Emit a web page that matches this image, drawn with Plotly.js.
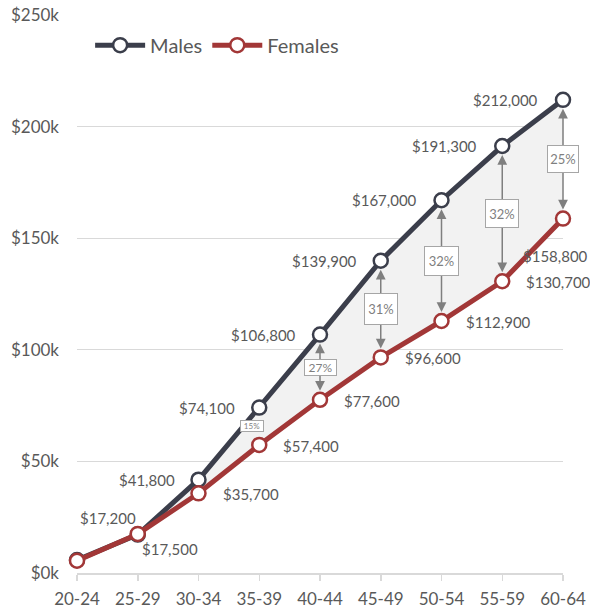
<!DOCTYPE html>
<html>
<head>
<meta charset="utf-8">
<script src="https://cdn.plot.ly/plotly-3.0.1.min.js"></script>
<style>html,body{margin:0;padding:0;background:#fff}#chart{width:590px;height:609px}</style>
</head>
<body>
<div id="chart"></div>
<script>
// ---- data ----
const ageGroups = ["20-24","25-29","30-34","35-39","40-44","45-49","50-54","55-59","60-64"];
const males   = [5800, 17200, 41800, 74100, 106800, 139900, 167000, 191300, 212000];
const females = [5500, 17500, 35700, 57400, 77600, 96600, 112900, 130700, 158800];
const gapLabels = ["", "", "", "15%", "27%", "31%", "32%", "32%", "25%"];
const yTickVals = [0, 50000, 100000, 150000, 200000, 250000];
const yTickText = ["$0k", "$50k", "$100k", "$150k", "$200k", "$250k"];

// ---- styles ----
const maleColor = "#3b3e4b", femaleColor = "#a23737", txtColor = "#595959";
const FONT = "Lato, 'Open Sans', sans-serif";
const idx = ageGroups.map((_, i) => i);
const fmt = v => "$" + v.toLocaleString("en-US");
// label placement styles: [xanchor, xshift, yshift]
const maleLabelPos = [null, ["right", 0, 17], ["right", -22, 0], ["right", -22, 0], ["right", -22, 0], ["right", -22, 0], ["right", -23, 0], ["right", -23, 0], ["right", -23, 0]];
const femaleLabelPos = [null, ["left", 2, -15], ["left", 22, -1], ["left", 22, -1], ["left", 22, -1], ["left", 22, -1], ["left", 22, -1], ["left", 22, -1], ["right", 27, -37]];
const boxW = [0, 0, 0, 20, 29, 30, 31, 30, 28];
const boxH = [0, 0, 0, 8, 13, 28, 26, 25, 24];
const boxFont = [0, 0, 0, 8, 12, 13, 13, 13, 13];
const boxShiftX = [0, 0, 0, -7, 0, 0, 0, 0, 0];

const markerStyle = c => ({size: 14, color: "#ffffff", line: {color: c, width: 2.5}});

const traces = [
  {x: idx, y: males, mode: "lines", line: {width: 0, color: "rgba(0,0,0,0)"}, showlegend: false, hoverinfo: "skip"},
  {x: idx, y: females, mode: "lines", line: {width: 0, color: "rgba(0,0,0,0)"}, fill: "tonexty", fillcolor: "#f2f2f2", showlegend: false, hoverinfo: "skip"},
  {x: idx, y: males, name: "Males", mode: "lines+markers", line: {color: maleColor, width: 5}, marker: markerStyle(maleColor), cliponaxis: false},
  {x: idx, y: females, name: "Females", mode: "lines+markers", line: {color: femaleColor, width: 5}, marker: markerStyle(femaleColor), cliponaxis: false}
];

const annotations = [];
idx.forEach(i => {
  const mp = maleLabelPos[i];
  if (mp) annotations.push({x: i, y: males[i], xref: "x", yref: "y", text: fmt(males[i]), showarrow: false,
    xanchor: mp[0], yanchor: "middle", xshift: mp[1], yshift: mp[2], font: {family: FONT, size: 15, color: txtColor}});
  const fp = femaleLabelPos[i];
  if (fp) annotations.push({x: i, y: females[i], xref: "x", yref: "y", text: fmt(females[i]), showarrow: false,
    xanchor: fp[0], yanchor: "middle", xshift: fp[1], yshift: fp[2], font: {family: FONT, size: 15, color: txtColor}});
});
// arrows
idx.forEach(i => {
  if (!gapLabels[i]) return;
  const mid = (males[i] + females[i]) / 2;
  if (males[i] - females[i] > 20000) {
    [males[i], females[i]].forEach(v => annotations.push({x: i, y: v, xref: "x", yref: "y", ax: i, ay: mid, axref: "x", ayref: "y",
      text: "", showarrow: true, arrowhead: 2, arrowsize: 1.3, arrowwidth: 1.5, arrowcolor: "#7f7f7f", standoff: 9}));
  }
});
// percentage boxes
idx.forEach(i => {
  if (!gapLabels[i]) return;
  const mid = (males[i] + females[i]) / 2;
  annotations.push({x: i, y: mid, xref: "x", yref: "y", text: gapLabels[i], showarrow: false,
    xshift: boxShiftX[i], width: boxW[i], height: boxH[i], bgcolor: "#ffffff", bordercolor: "#a6a6a6", borderwidth: 1, borderpad: 1,
    font: {family: FONT, size: boxFont[i], color: "#7f7f7f"}});
});

const layout = {
  width: 590, height: 609,
  margin: {l: 77, r: 27, t: 15, b: 36},
  paper_bgcolor: "#ffffff", plot_bgcolor: "#ffffff",
  font: {family: FONT, color: txtColor},
  showlegend: true,
  legend: {orientation: "h", x: 0.027, xanchor: "left", y: 0.946, yanchor: "middle", font: {family: FONT, size: 20, color: txtColor},
    itemwidth: 50, bgcolor: "rgba(0,0,0,0)", traceorder: "normal"},
  xaxis: {range: [0, 8], tickvals: idx, ticktext: ageGroups, showgrid: false, zeroline: false,
    showline: true, linecolor: "#d9d9d9", linewidth: 1.5, ticks: "outside", ticklen: 6, tickcolor: "#d9d9d9", tickwidth: 1.5,
    ticklabelstandoff: 4,
    tickfont: {family: FONT, size: 17, color: txtColor}, fixedrange: true},
  yaxis: {range: [0, 250000], tickvals: yTickVals, ticktext: yTickText, showgrid: true, gridcolor: "#d9d9d9", gridwidth: 1.2,
    zeroline: false, showline: false, ticks: "", ticklabelstandoff: 17,
    tickfont: {family: FONT, size: 17, color: txtColor}, fixedrange: true},
  annotations: annotations
};

Plotly.newPlot("chart", traces, layout, {displayModeBar: false, staticPlot: true});
</script>
</body>
</html>
